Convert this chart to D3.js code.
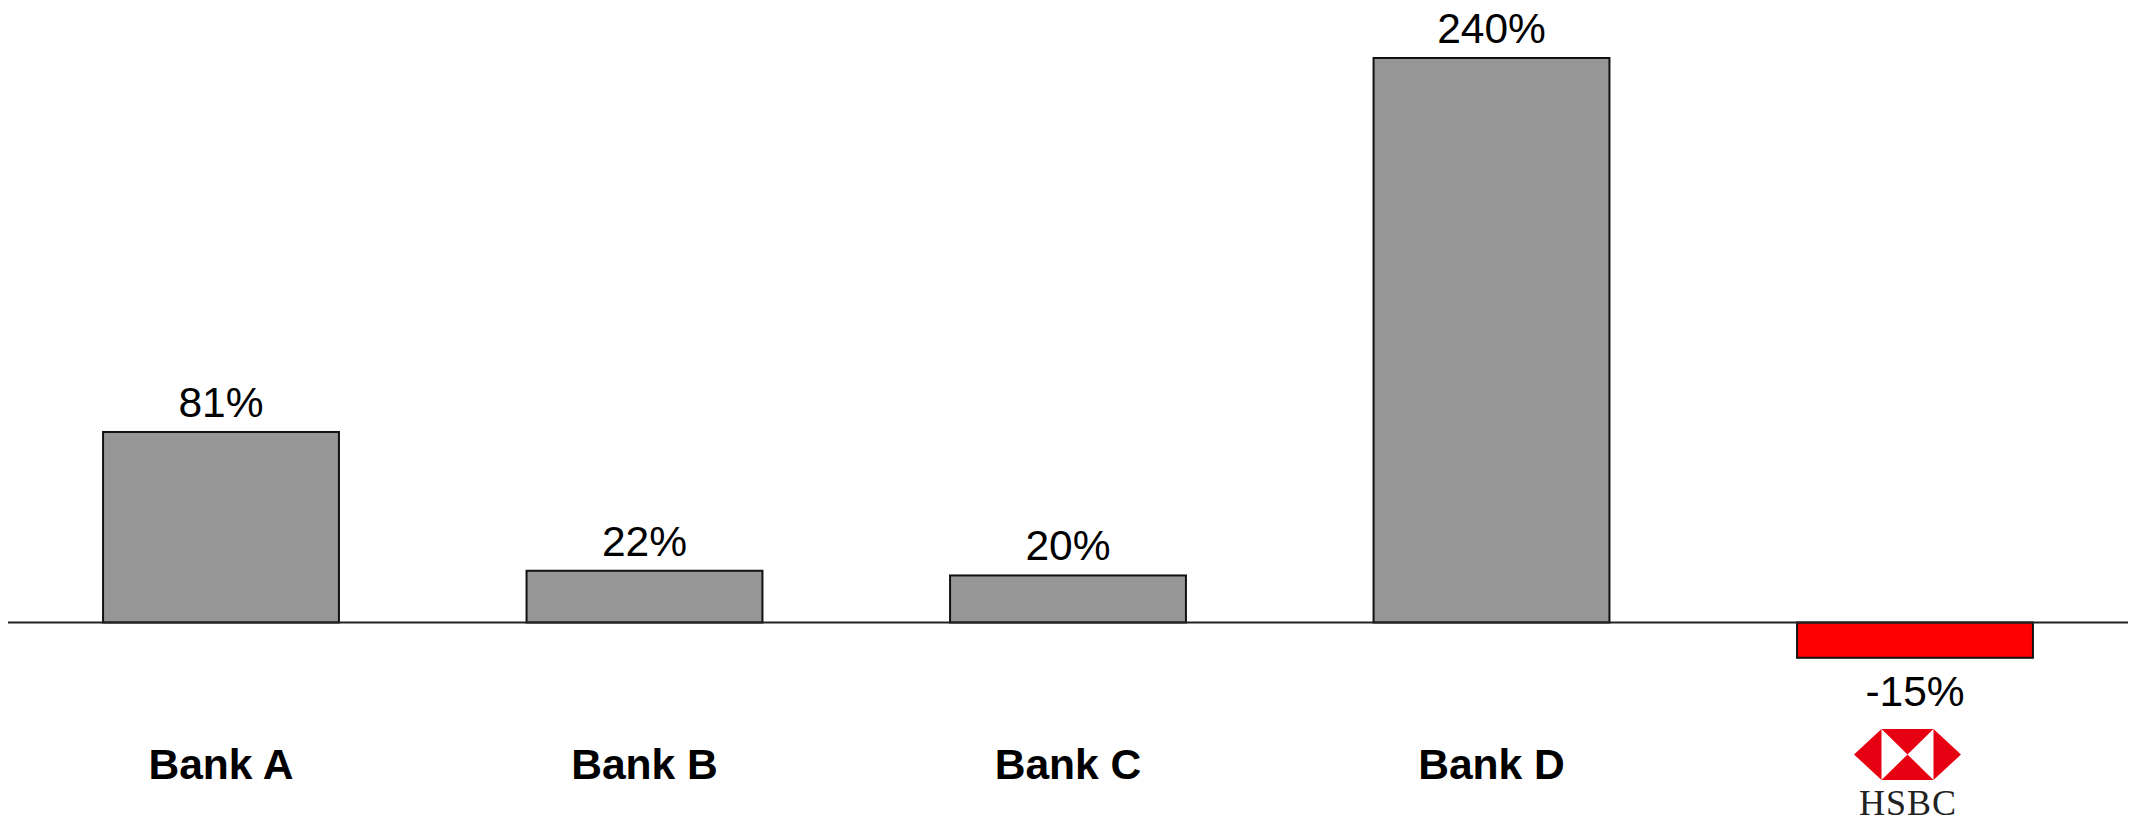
<!DOCTYPE html>
<html>
<head>
<meta charset="utf-8">
<script src="https://cdnjs.cloudflare.com/ajax/libs/d3/7.8.5/d3.min.js"></script>
<style>
  html, body { margin: 0; padding: 0; background: #fff; }
  svg { display: block; }
  text { font-family: "Liberation Sans", Arial, sans-serif; fill: #000; }
</style>
</head>
<body>
<svg id="chart" width="2138" height="819"></svg>
<script>
const banks = ["Bank A", "Bank B", "Bank C", "Bank D", "HSBC"];
const growth = [81, 22, 20, 240, -15];
const barColors = ["#969696", "#969696", "#969696", "#969696", "#ff0000"];

const width = 2138, height = 819;
const svg = d3.select("#chart");

const x = d3.scaleBand()
  .domain(banks)
  .range([9.25, 2126.75])
  .paddingInner(0.443)
  .paddingOuter(0.2215);

const y = d3.scaleLinear()
  .domain([0, 240])
  .range([622.5, 58]);

// Bars, growing up or down from zero
svg.append("g")
  .selectAll("rect")
  .data(banks)
  .join("rect")
  .attr("x", d => x(d))
  .attr("width", x.bandwidth())
  .attr("y", (d, i) => Math.min(y(growth[i]), y(0)))
  .attr("height", (d, i) => Math.abs(y(growth[i]) - y(0)))
  .attr("fill", (d, i) => barColors[i])
  .attr("stroke", "#111")
  .attr("stroke-width", 2);

// Zero line
svg.append("line")
  .attr("x1", 8).attr("x2", 2128)
  .attr("y1", y(0)).attr("y2", y(0))
  .attr("stroke", "#222")
  .attr("stroke-width", 2);

// Value labels
svg.append("g")
  .selectAll("text")
  .data(banks)
  .join("text")
  .attr("x", d => x(d) + x.bandwidth() / 2)
  .attr("y", (d, i) => growth[i] >= 0 ? y(growth[i]) - 15 : y(growth[i]) + 48)
  .attr("text-anchor", "middle")
  .attr("font-size", 42.5)
  .text((d, i) => `${growth[i]}%`);

// Category labels for the named banks
svg.append("g")
  .selectAll("text")
  .data(banks.slice(0, 4))
  .join("text")
  .attr("x", d => x(d) + x.bandwidth() / 2)
  .attr("y", 779)
  .attr("text-anchor", "middle")
  .attr("font-size", 42.6)
  .attr("font-weight", "bold")
  .text(d => d);

// HSBC hexagon mark and wordmark under the last bar, set slightly left of the bar centre
const cx = x("HSBC") + x.bandwidth() / 2 - 7.5;
const logo = svg.append("g").attr("transform", `translate(${cx},754.5)`);
const hw = 53.5, iw = 26, hh = 25.5;
const red = "#e60012";
const triangles = [
  [[-hw, 0], [-iw, -hh], [-iw, hh]],
  [[hw, 0], [iw, -hh], [iw, hh]],
  [[-iw, -hh], [iw, -hh], [0, 0]],
  [[-iw, hh], [iw, hh], [0, 0]]
];
logo.selectAll("path")
  .data(triangles)
  .join("path")
  .attr("d", d => d3.line()(d) + "Z")
  .attr("fill", red);

svg.append("text")
  .attr("x", cx + 0.5)
  .attr("y", 815)
  .attr("text-anchor", "middle")
  .attr("font-size", 36)
  .attr("letter-spacing", 1)
  .style("font-family", "'Liberation Serif', 'Times New Roman', serif")
  .style("fill", "#222")
  .text("HSBC");
</script>
</body>
</html>
